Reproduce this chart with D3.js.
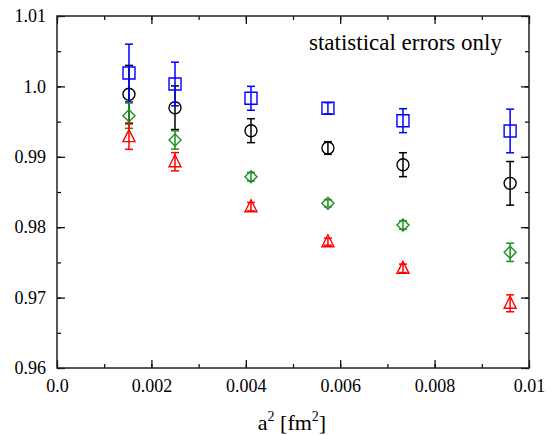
<!DOCTYPE html>
<html><head><meta charset="utf-8">
<script src="https://cdn.jsdelivr.net/npm/d3@7"></script>
<style>body{margin:0;background:#fff}svg{display:block}svg text{font-family:"Liberation Serif","Times New Roman",serif !important}</style>
</head><body><div id="c"></div>
<script>
const xVals = [0.001525, 0.0025, 0.00411, 0.00574, 0.00733, 0.0096];
const blueVals = [1.0019, 1.00034, 0.99831, 0.99689, 0.99513, 0.99367];
const blueErr = [0.0041, 0.0031, 0.0017, 0.0008, 0.0017, 0.0031];
const blackVals = [0.99888, 0.99697, 0.99371, 0.99125, 0.98888, 0.98623];
const blackErr = [0.0041, 0.0031, 0.0017, 0.0009, 0.0017, 0.0031];
const greenVals = [0.99584, 0.99239, 0.98717, 0.98339, 0.98031, 0.97643];
const greenErr = [0.0018, 0.0013, 0.0006, 0.0005, 0.0006, 0.0013];
const redVals = [0.99286, 0.98930, 0.98291, 0.97794, 0.97416, 0.96919];
const redErr = [0.0018, 0.0013, 0.0006, 0.0005, 0.0006, 0.0012];
const xTicks = [0, 0.002, 0.004, 0.006, 0.008, 0.01];
const xTickLabels = ["0.0", "0.002", "0.004", "0.006", "0.008", "0.01"];
const yTicks = [0.96, 0.97, 0.98, 0.99, 1.0, 1.01];
const yTickLabels = ["0.96", "0.97", "0.98", "0.99", "1.0", "1.01"];

const W = 551, H = 435;
const L = 57, R = 529, T = 16, B = 368;
const FONT = '"Liberation Serif","Times New Roman",serif';
const svg = d3.select("#c").append("svg").attr("width", W).attr("height", H);
const x = d3.scaleLinear().domain([0, 0.01]).range([L, R]);
const y = d3.scaleLinear().domain([0.96, 1.01]).range([B, T]);

const xMinor = d3.range(0, 11).map(i => i * 0.001);
const yMinor = d3.range(0, 11).map(i => 0.96 + i * 0.005);

function styleAxis(g){
  g.attr("font-family", null);
  g.select(".domain").remove();
  g.selectAll("line").attr("stroke","#000").attr("stroke-width",1.2);
  g.selectAll("text").attr("font-size",18).attr("fill","#000").style("font-family", FONT);
}

// minor ticks
svg.append("g").attr("transform",`translate(0,${B})`).call(d3.axisBottom(x).tickValues(xMinor).tickSize(-4).tickFormat("")).call(styleAxis);
svg.append("g").attr("transform",`translate(0,${T})`).call(d3.axisTop(x).tickValues(xMinor).tickSize(-4).tickFormat("")).call(styleAxis);
svg.append("g").attr("transform",`translate(${L},0)`).call(d3.axisLeft(y).tickValues(yMinor).tickSize(-4).tickFormat("")).call(styleAxis);
svg.append("g").attr("transform",`translate(${R},0)`).call(d3.axisRight(y).tickValues(yMinor).tickSize(-4).tickFormat("")).call(styleAxis);
// major ticks
svg.append("g").attr("transform",`translate(0,${B})`).call(d3.axisBottom(x).tickValues(xTicks).tickSize(-8).tickPadding(11).tickFormat((d,i)=>xTickLabels[i])).call(styleAxis);
svg.append("g").attr("transform",`translate(0,${T})`).call(d3.axisTop(x).tickValues(xTicks).tickSize(-8).tickFormat("")).call(styleAxis);
svg.append("g").attr("transform",`translate(${L},0)`).call(d3.axisLeft(y).tickValues(yTicks).tickSize(-8).tickPadding(11).tickFormat((d,i)=>yTickLabels[i])).call(styleAxis);
svg.append("g").attr("transform",`translate(${R},0)`).call(d3.axisRight(y).tickValues(yTicks).tickSize(-8).tickFormat("")).call(styleAxis);

// frame
svg.append("rect").attr("x",L).attr("y",T).attr("width",R-L).attr("height",B-T).attr("fill","none").attr("stroke","#222").attr("stroke-width",1.5);

const series = [
  {vals: blackVals, err: blackErr, color: "#000000", shape: "circle"},
  {vals: blueVals, err: blueErr, color: "#0000ff", shape: "square"},
  {vals: greenVals, err: greenErr, color: "#1f8f1f", shape: "diamond"},
  {vals: redVals, err: redErr, color: "#ff0000", shape: "triangle"}
];
const s = 6, cap = 4;
function shapePath(shape){
  if (shape === "square") return `M${-s},${-s}H${s}V${s}H${-s}Z`;
  if (shape === "diamond") return `M0,${-s}L${s},0L0,${s}L${-s},0Z`;
  if (shape === "triangle") return `M0,${-s-1}L${s},${s-1}L${-s},${s-1}Z`;
  return null;
}
series.forEach(se => {
  const g = svg.append("g");
  const d = xVals.map((xv,i)=>({x:xv, v:se.vals[i], e:se.err[i]}));
  const eb = g.selectAll("g.eb").data(d).join("g");
  eb.append("line").attr("x1",p=>x(p.x)).attr("x2",p=>x(p.x)).attr("y1",p=>y(p.v+p.e)).attr("y2",p=>y(p.v-p.e)).attr("stroke",se.color).attr("stroke-width",1.5);
  eb.append("line").attr("x1",p=>x(p.x)-cap).attr("x2",p=>x(p.x)+cap).attr("y1",p=>y(p.v+p.e)).attr("y2",p=>y(p.v+p.e)).attr("stroke",se.color).attr("stroke-width",1.5);
  eb.append("line").attr("x1",p=>x(p.x)-cap).attr("x2",p=>x(p.x)+cap).attr("y1",p=>y(p.v-p.e)).attr("y2",p=>y(p.v-p.e)).attr("stroke",se.color).attr("stroke-width",1.5);
  if (se.shape === "circle") {
    g.selectAll("circle").data(d).join("circle").attr("cx",p=>x(p.x)).attr("cy",p=>y(p.v)).attr("r",s).attr("fill","none").attr("stroke",se.color).attr("stroke-width",1.4);
  } else {
    g.selectAll("path.m").data(d).join("path").attr("class","m").attr("transform",p=>`translate(${x(p.x)},${y(p.v)})`).attr("d",shapePath(se.shape)).attr("fill","none").attr("stroke",se.color).attr("stroke-width",1.4);
  }
});

svg.append("text").attr("x",309).attr("y",50).attr("font-size",23).style("font-family", FONT).text("statistical errors only");
const xt = svg.append("text").attr("x",292).attr("y",430).attr("text-anchor","middle").attr("font-size",22).style("font-family", FONT);
xt.append("tspan").text("a");
xt.append("tspan").attr("dy",-9).attr("font-size",14).text("2");
xt.append("tspan").attr("dy",9).text(" [fm");
xt.append("tspan").attr("dy",-9).attr("font-size",14).text("2");
xt.append("tspan").attr("dy",9).text("]");
</script></body></html>
